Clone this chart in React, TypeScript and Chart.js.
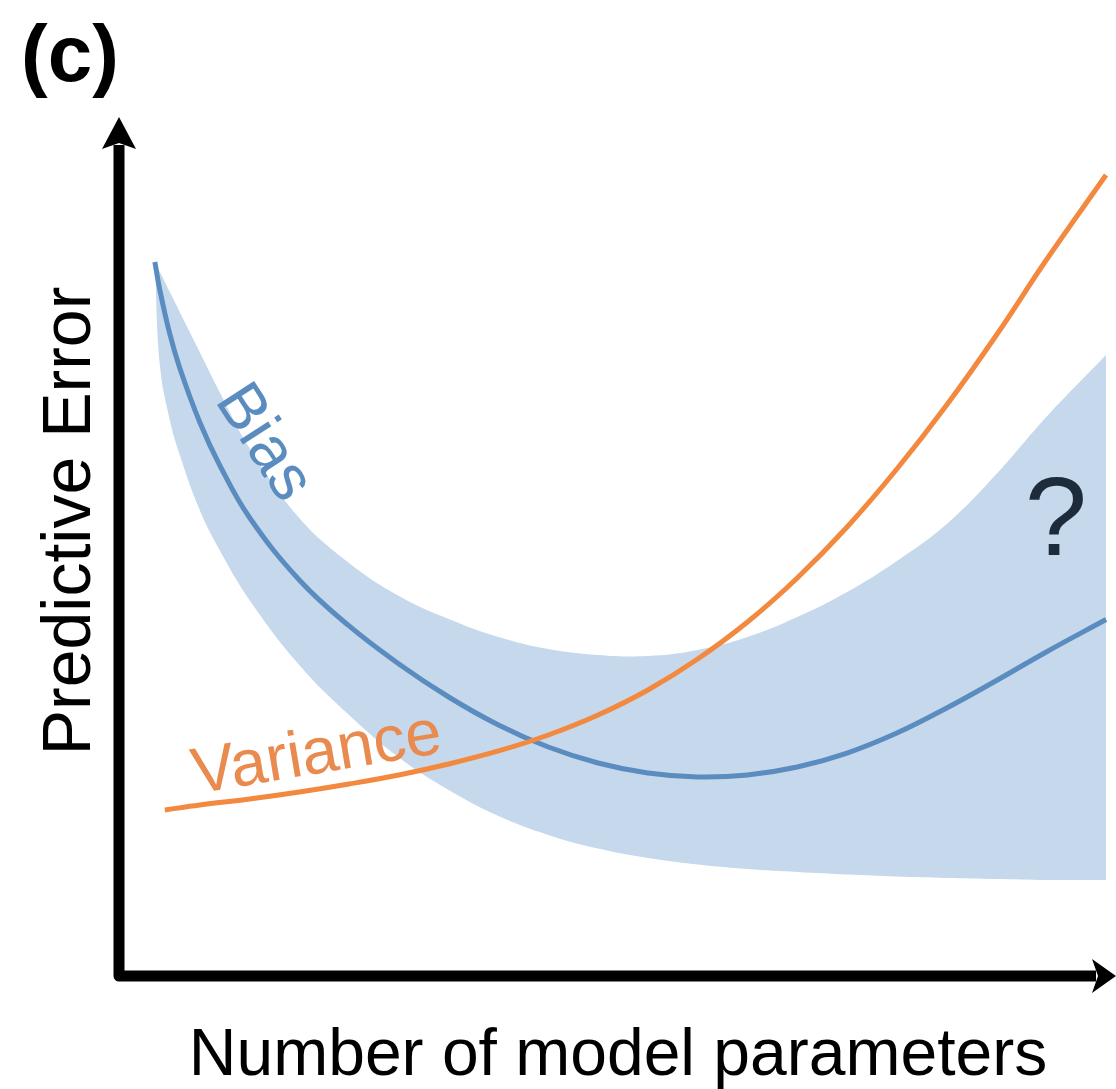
import React, { useEffect, useRef } from "react";
import { Chart, registerables } from "chart.js";

Chart.register(...registerables);

// Shared x positions (number of model parameters, 0–100 scale)
const bandX = [3.5, 4, 5, 6, 8, 10, 13, 18, 23, 28, 33, 38, 43, 48, 53, 58, 63, 68, 73, 78, 83, 88, 93, 99];
// Bias (central line)
const biasY = [83.45, 80.19, 75.06, 71.1, 64.8, 59.79, 53.67, 46.39, 41.03, 36.6, 32.75, 29.49, 26.92, 25.06, 23.89, 23.43, 23.66, 24.59, 26.22, 28.55, 31.47, 34.67, 38.0, 41.78];
// Uncertainty band upper / lower edges
const bandUpper = [83.45, 82.28, 79.95, 77.62, 72.96, 68.3, 61.77, 53.61, 48.37, 44.52, 41.84, 39.74, 38.34, 37.65, 37.53, 38.23, 39.74, 42.07, 44.99, 48.6, 52.91, 58.74, 65.38, 72.61];
const bandLower = [83.45, 71.45, 65.03, 60.96, 54.55, 49.88, 44.06, 36.48, 30.65, 25.7, 21.91, 18.88, 16.67, 15.09, 13.99, 13.23, 12.7, 12.35, 12.06, 11.83, 11.66, 11.54, 11.42, 11.42];
// Variance
const varX = [4.5, 8, 13, 18, 23, 28, 33, 38, 43, 48, 53, 58, 63, 68, 73, 78, 83, 88, 93, 99];
const varY = [19.58, 20.16, 20.86, 21.68, 22.61, 23.66, 24.94, 26.46, 28.32, 30.65, 33.57, 37.18, 41.49, 46.62, 52.56, 59.32, 66.78, 74.94, 83.68, 93.59];

const panelLabel = "(c)";
const yTitle = "Predictive Error";
const xTitle = "Number of model parameters";
const biasLabel = "Bias";
const varLabel = "Variance";
const qLabel = "?";

const BLUE = "#5a8cbf";
const BAND = "#c6d8ec";
const ORANGE = "#f2893e";
const FONT = "'Liberation Sans', Arial, Helvetica, sans-serif";
const TENSION = 0.4;

const zip = (xs: number[], ys: number[]) => xs.map((x, i) => ({ x, y: ys[i] }));

const decorPlugin = {
  id: "decor",
  afterDatasetsDraw(chart: any) {
    const ctx = chart.ctx as CanvasRenderingContext2D;
    const a = chart.chartArea;
    const ax = a.left - 1; // y axis line centre
    const ay = a.bottom - 2; // x axis line centre
    ctx.save();
    ctx.fillStyle = "#000";
    ctx.strokeStyle = "#000";
    ctx.lineWidth = 11;
    ctx.lineJoin = "round";
    ctx.lineCap = "butt";
    ctx.beginPath();
    ctx.moveTo(ax, a.top + 25);
    ctx.lineTo(ax, ay);
    ctx.lineTo(a.right - 20, ay);
    ctx.stroke();
    // y arrow head
    ctx.beginPath();
    ctx.moveTo(ax, a.top - 3);
    ctx.lineTo(ax + 17, a.top + 29);
    ctx.lineTo(ax, a.top + 23);
    ctx.lineTo(ax - 17, a.top + 29);
    ctx.closePath();
    ctx.fill();
    // x arrow head
    ctx.beginPath();
    ctx.moveTo(a.right, ay);
    ctx.lineTo(a.right - 24, ay - 17);
    ctx.lineTo(a.right - 18, ay);
    ctx.lineTo(a.right - 24, ay + 17);
    ctx.closePath();
    ctx.fill();

    // texts
    ctx.textAlign = "left";
    ctx.textBaseline = "alphabetic";
    ctx.font = `bold 80px ${FONT}`;
    ctx.fillText(panelLabel, 21, 81);

    ctx.textAlign = "center";
    ctx.font = `66px ${FONT}`;
    ctx.fillText(xTitle, 618, 1075);

    ctx.save();
    ctx.translate(90, 521);
    ctx.rotate(-Math.PI / 2);
    ctx.font = `68px ${FONT}`;
    ctx.fillText(yTitle, 0, 0);
    ctx.restore();

    ctx.save();
    ctx.translate(263, 443);
    ctx.rotate((57 * Math.PI) / 180);
    ctx.fillStyle = BLUE;
    ctx.textBaseline = "middle";
    ctx.font = `64px ${FONT}`;
    ctx.fillText(biasLabel, 0, 0);
    ctx.restore();

    ctx.save();
    ctx.translate(320, 773);
    ctx.rotate((-9.5 * Math.PI) / 180);
    ctx.fillStyle = "#e98a4e";
    ctx.font = `65px ${FONT}`;
    ctx.fillText(varLabel, 0, 0);
    ctx.restore();

    ctx.fillStyle = "#1d2b3b";
    ctx.font = `112px ${FONT}`;
    ctx.fillText(qLabel, 1056, 555);
    ctx.restore();
  },
};

export default function App() {
  const ref = useRef<HTMLCanvasElement | null>(null);
  useEffect(() => {
    if (!ref.current) return;
    const chart = new Chart(ref.current, {
      type: "line",
      data: {
        datasets: [
          {
            label: "Variance",
            data: zip(varX, varY),
            borderColor: ORANGE,
            borderWidth: 5,
            pointRadius: 0,
            fill: false,
            tension: TENSION,
            order: 0,
          },
          {
            label: "Bias",
            data: zip(bandX, biasY),
            borderColor: BLUE,
            borderWidth: 5,
            pointRadius: 0,
            fill: false,
            tension: TENSION,
            order: 1,
          },
          {
            label: "Upper",
            data: zip(bandX, bandUpper),
            borderWidth: 0,
            borderColor: "rgba(0,0,0,0)",
            backgroundColor: BAND,
            pointRadius: 0,
            fill: 3,
            tension: TENSION,
            order: 2,
          },
          {
            label: "Lower",
            data: zip(bandX, bandLower),
            borderWidth: 0,
            borderColor: "rgba(0,0,0,0)",
            pointRadius: 0,
            fill: false,
            tension: TENSION,
            order: 3,
          },
        ] as any,
      },
      options: {
        animation: false,
        responsive: false,
        maintainAspectRatio: false,
        layout: { padding: { left: 120, right: 0, top: 120, bottom: 111 } },
        plugins: { legend: { display: false }, tooltip: { enabled: false }, title: { display: false } },
        scales: {
          x: { type: "linear", min: 0, max: 100, display: false },
          y: { type: "linear", min: 0, max: 100, display: false },
        },
      } as any,
      plugins: [decorPlugin],
    });
    return () => chart.destroy();
  }, []);
  return (
    <div style={{ position: "absolute", left: 0, top: 0, width: 1116, height: 1089, background: "#fff" }}>
      <canvas ref={ref} width={1116} height={1089} style={{ display: "block" }} />
    </div>
  );
}
